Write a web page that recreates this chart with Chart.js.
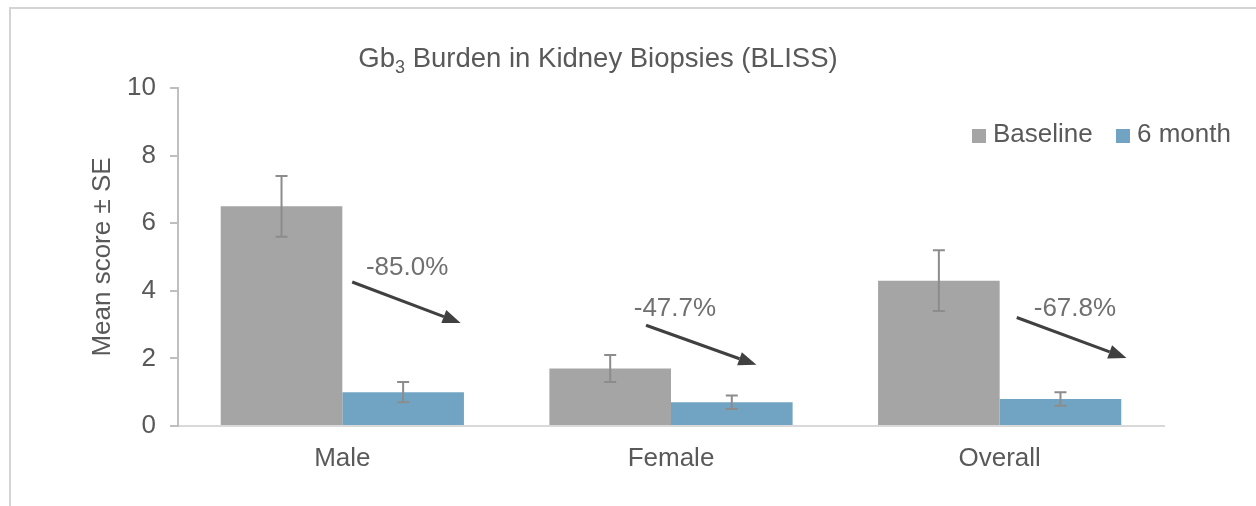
<!DOCTYPE html>
<html>
<head>
<meta charset="utf-8">
<script src="https://cdn.jsdelivr.net/npm/chart.js@4.4.0/dist/chart.umd.min.js"></script>
<style>
  html, body { margin: 0; padding: 0; background: #fff; }
  #wrap { position: relative; width: 1256px; height: 506px; }
</style>
</head>
<body>
<div id="wrap"><canvas id="gbChart" width="1256" height="506"></canvas></div>
<script>
// values
const categories = ['Male', 'Female', 'Overall'];
const baseline = [6.5, 1.7, 4.3];
const baselineSE = [0.9, 0.4, 0.9];
const sixMonth = [1.0, 0.7, 0.8];
const sixMonthSE = [0.3, 0.2, 0.2];
const changeLabels = ['-85.0%', '-47.7%', '-67.8%'];
const yTicks = [0, 2, 4, 6, 8, 10];

// annotation placement: [offset in category widths, value]
const arrowStart = [[0.03, 4.26], [-0.076, 2.98], [0.052, 3.21]];
const arrowEnd = [[0.36, 3.05], [0.26, 1.81], [0.386, 2.01]];
const labelSpot = [[0.197, 4.69], [0.012, 3.47], [0.229, 3.47]];

const FONT = "'Liberation Sans', Arial, sans-serif";
const TEXT = '#595959';
const GRAY = '#a5a5a5';
const BLUE = '#71a4c2';

const framePlugin = {
  id: 'frame',
  beforeDraw(chart) {
    const ctx = chart.ctx;
    ctx.save();
    ctx.fillStyle = '#fff';
    ctx.fillRect(0, 0, chart.width, chart.height);
    ctx.strokeStyle = '#d4d4d4';
    ctx.lineWidth = 2;
    ctx.strokeRect(10, 8, chart.width + 40, chart.height + 40);
    ctx.restore();
  },
  afterDraw(chart) {
    const ctx = chart.ctx;
    ctx.save();
    // title with subscript
    const big = `27.5px ${FONT}`, small = `18px ${FONT}`;
    ctx.fillStyle = TEXT;
    ctx.textBaseline = 'alphabetic';
    ctx.font = big;
    const w1 = ctx.measureText('Gb').width;
    const w3 = ctx.measureText(' Burden in Kidney Biopsies (BLISS)').width;
    ctx.font = small;
    const w2 = ctx.measureText('3').width;
    let x = 598 - (w1 + w2 + w3) / 2;
    const base = 67;
    ctx.font = big; ctx.fillText('Gb', x, base); x += w1;
    ctx.font = small; ctx.fillText('3', x, base + 6); x += w2;
    ctx.font = big; ctx.fillText(' Burden in Kidney Biopsies (BLISS)', x, base);

    // legend
    ctx.font = `26px ${FONT}`;
    ctx.textBaseline = 'middle';
    const items = [[chart.data.datasets[0].label, GRAY, 972], [chart.data.datasets[1].label, BLUE, 1116]];
    items.forEach(([txt, col, lx]) => {
      ctx.fillStyle = col;
      ctx.fillRect(lx, 129, 14, 14);
      ctx.fillStyle = TEXT;
      ctx.fillText(txt, lx + 21, 135);
    });

    // change arrows and labels
    const xs = chart.scales.x, ys = chart.scales.y;
    const catW = xs.width / categories.length;
    const px = (j, p) => [xs.getPixelForValue(j) + p[0] * catW, ys.getPixelForValue(p[1])];
    categories.forEach((c, j) => {
      const [x1, y1] = px(j, arrowStart[j]);
      const [x2, y2] = px(j, arrowEnd[j]);
      const ang = Math.atan2(y2 - y1, x2 - x1);
      const head = 18, hw = 7;
      ctx.strokeStyle = '#404040';
      ctx.fillStyle = '#404040';
      ctx.lineWidth = 3;
      ctx.beginPath();
      ctx.moveTo(x1, y1);
      ctx.lineTo(x2 - head * Math.cos(ang), y2 - head * Math.sin(ang));
      ctx.stroke();
      ctx.beginPath();
      ctx.moveTo(x2, y2);
      ctx.lineTo(x2 - head * Math.cos(ang) + hw * Math.sin(ang), y2 - head * Math.sin(ang) - hw * Math.cos(ang));
      ctx.lineTo(x2 - head * Math.cos(ang) - hw * Math.sin(ang), y2 - head * Math.sin(ang) + hw * Math.cos(ang));
      ctx.closePath();
      ctx.fill();

      const [tx, ty] = px(j, labelSpot[j]);
      ctx.fillStyle = '#707070';
      ctx.textAlign = 'center';
      ctx.textBaseline = 'middle';
      ctx.fillText(changeLabels[j], tx, ty);
    });
    ctx.restore();
  }
};

const errorBarPlugin = {
  id: 'errorBars',
  afterDatasetsDraw(chart) {
    const ctx = chart.ctx, ys = chart.scales.y;
    ctx.save();
    ctx.strokeStyle = '#8c8c8c';
    ctx.lineWidth = 2;
    chart.data.datasets.forEach((ds, i) => {
      chart.getDatasetMeta(i).data.forEach((bar, j) => {
        const v = ds.data[j], e = ds.errors[j];
        const top = ys.getPixelForValue(v + e), bot = ys.getPixelForValue(v - e);
        ctx.beginPath();
        ctx.moveTo(bar.x, top); ctx.lineTo(bar.x, bot);
        ctx.moveTo(bar.x - 6, top); ctx.lineTo(bar.x + 6, top);
        ctx.moveTo(bar.x - 6, bot); ctx.lineTo(bar.x + 6, bot);
        ctx.stroke();
      });
    });
    ctx.restore();
  }
};

new Chart(document.getElementById('gbChart'), {
  type: 'bar',
  data: {
    labels: categories,
    datasets: [
      { label: 'Baseline', data: baseline, errors: baselineSE, backgroundColor: GRAY },
      { label: '6 month', data: sixMonth, errors: sixMonthSE, backgroundColor: BLUE }
    ]
  },
  options: {
    responsive: false,
    animation: false,
    categoryPercentage: 0.74,
    barPercentage: 1.0,
    layout: { padding: { top: 88, right: 92, left: 0, bottom: 0 } },
    plugins: {
      legend: { display: false },
      title: { display: false },
      tooltip: { enabled: false }
    },
    scales: {
      x: {
        grid: { display: false, drawTicks: false },
        border: { color: '#d9d9d9', width: 2 },
        ticks: { color: TEXT, font: { family: FONT, size: 26 }, padding: 17 },
        afterFit(s) { s.height = 80; }
      },
      y: {
        min: yTicks[0],
        max: yTicks[yTicks.length - 1],
        ticks: { stepSize: yTicks[1] - yTicks[0], color: TEXT, font: { family: FONT, size: 26 }, padding: 14 },
        grid: { drawOnChartArea: false, drawTicks: true, tickLength: 8, color: '#bfbfbf', lineWidth: 2 },
        border: { color: '#bfbfbf', width: 2 },
        title: { display: true, text: 'Mean score \u00b1 SE', color: TEXT, font: { family: FONT, size: 26 }, padding: { top: 87 } },
        afterFit(s) { s.width = 178; }
      }
    }
  },
  plugins: [framePlugin, errorBarPlugin]
});
</script>
</body>
</html>
